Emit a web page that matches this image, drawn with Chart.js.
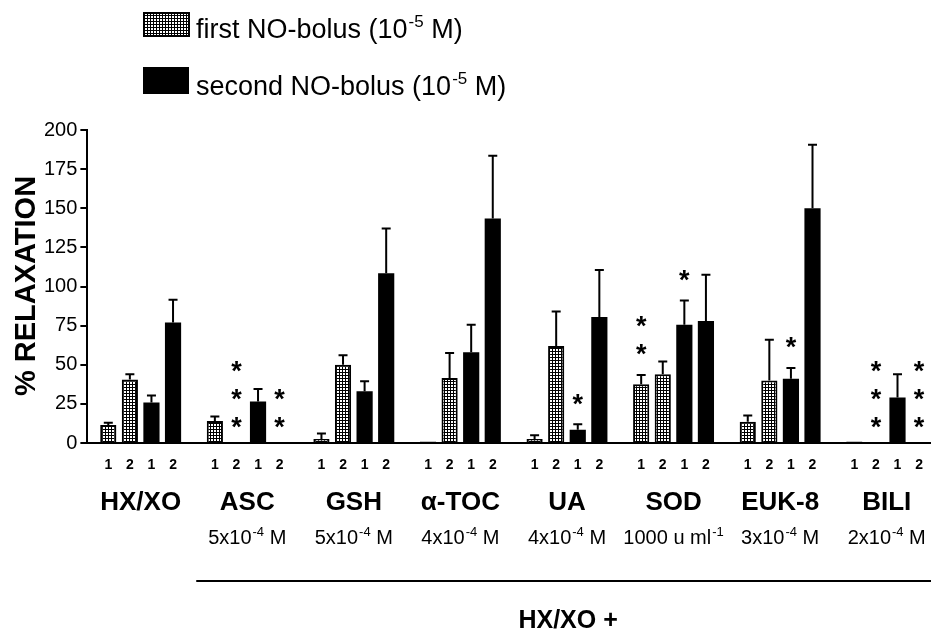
<!DOCTYPE html>
<html>
<head>
<meta charset="utf-8">
<script src="https://cdn.jsdelivr.net/npm/chart.js@4/dist/chart.umd.min.js"></script>
<style>
  html, body { margin: 0; padding: 0; background: #fff; overflow: hidden; }
  #wrap { width: 931px; height: 630px; overflow: hidden; position: relative; }
  canvas { display: block; }
</style>
</head>
<body>
<div id="wrap"><canvas id="c" width="940" height="630" style="width:940px;height:630px"></canvas></div>
<script>
// ---------- data ----------
const groups = ['HX/XO', 'ASC', 'GSH', 'α-TOC', 'UA', 'SOD', 'EUK-8', 'BILI'];
const concBase = ['', '5x10', '5x10', '4x10', '4x10', '1000 u ml', '3x10', '2x10'];
const concExp  = ['', '-4', '-4', '-4', '-4', '-1', '-4', '-4'];
const concUnit = ['', ' M', ' M', ' M', ' M', '', ' M', ' M'];
const barLabels = ['1', '2', '1', '2'];

const first1     = [11.5, 14, 2.5, 1, 2.5, 37.5, 13.5, 1];
const first1Err  = [1.5, 3, 3.5, 0, 2.5, 6, 4, 0];
const first2     = [40.5, 0.6, 50, 41.5, 62, 44, 40, 0.5];
const first2Err  = [3.5, 0, 6, 16, 22, 8, 26, 0];
const second1    = [25.8, 26.5, 33, 58, 8.5, 75.5, 41, 29];
const second1Err = [4.5, 8, 6.5, 17.5, 3.5, 15.5, 7, 15];
const second2    = [77, 0.5, 108.5, 143.5, 80.5, 78, 150, 0.5];
const second2Err = [14.5, 0, 28.5, 40, 30, 29.5, 40.5, 0];

const first1Stars  = [0, 0, 0, 0, 0, 2, 0, 0];
const first2Stars  = [0, 3, 0, 0, 0, 0, 0, 3];
const second1Stars = [0, 0, 0, 0, 1, 1, 1, 0];
const second2Stars = [0, 2, 0, 0, 0, 0, 0, 3];

const yTicks = [0, 25, 50, 75, 100, 125, 150, 175, 200];
const legendLabels = ['first NO-bolus (10', 'second NO-bolus (10'];
const legendExp = '-5';
const legendTail = ' M)';
const yTitle = '% RELAXATION';
const groupCaption = 'HX/XO +';

// ---------- styling ----------
const FONT = "'Liberation Sans', Arial, Helvetica, sans-serif";
const canvas = document.getElementById('c');
const ctx0 = canvas.getContext('2d');
function makePattern() {
  const c = document.createElement('canvas');
  c.width = 3; c.height = 3;
  const g = c.getContext('2d');
  g.fillStyle = '#000'; g.fillRect(0, 0, 3, 3);
  g.fillStyle = '#fff'; g.fillRect(1, 1, 2, 2);
  return ctx0.createPattern(c, 'repeat');
}
const dotted = makePattern();

const errs = [first1Err, first2Err, second1Err, second2Err];
const stars = [first1Stars, first2Stars, second1Stars, second2Stars];

function drawSup(ctx, x, baseline, parts, size, supSize, weight, align) {
  ctx.font = `${weight} ${size}px ${FONT}`;
  const w1 = ctx.measureText(parts[0]).width;
  const w3 = ctx.measureText(parts[2]).width;
  ctx.font = `${weight} ${supSize}px ${FONT}`;
  const w2 = ctx.measureText(parts[1]).width;
  let sx = align === 'center' ? x - (w1 + w2 + w3 + 1) / 2 : x;
  ctx.textAlign = 'left';
  ctx.textBaseline = 'alphabetic';
  ctx.font = `${weight} ${size}px ${FONT}`;
  ctx.fillText(parts[0], sx, baseline);
  ctx.font = `${weight} ${supSize}px ${FONT}`;
  ctx.fillText(parts[1], sx + w1 + 1, baseline - size * 0.42);
  ctx.font = `${weight} ${size}px ${FONT}`;
  ctx.fillText(parts[2], sx + w1 + w2 + 1, baseline);
}

const decorPlugin = {
  id: 'decor',
  afterDatasetsDraw(chart) {
    const ctx = chart.ctx;
    const y = chart.scales.y;
    ctx.save();
    ctx.strokeStyle = '#000';
    ctx.fillStyle = '#000';
    ctx.lineWidth = 2;
    chart.data.datasets.forEach((ds, di) => {
      const meta = chart.getDatasetMeta(di);
      meta.data.forEach((el, i) => {
        const v = ds.data[i];
        const e = errs[di][i];
        let topPx = y.getPixelForValue(v + e);
        if (e > 0) {
          const y0 = y.getPixelForValue(v);
          ctx.beginPath();
          ctx.moveTo(el.x, y0);
          ctx.lineTo(el.x, topPx);
          ctx.moveTo(el.x - 4.5, topPx);
          ctx.lineTo(el.x + 4.5, topPx);
          ctx.stroke();
        }
        const n = stars[di][i];
        if (n > 0) {
          ctx.font = `bold 27px ${FONT}`;
          ctx.textAlign = 'center';
          ctx.textBaseline = 'alphabetic';
          const m = ctx.measureText('*');
          const off = (v + e) < 5 ? 20 : 25;
          for (let k = 0; k < n; k++) {
            const cy = topPx - off - k * 28;
            const by = cy + (m.actualBoundingBoxAscent - m.actualBoundingBoxDescent) / 2;
            ctx.fillText('*', el.x, by);
          }
        }
      });
    });
    ctx.restore();
  },
  afterDraw(chart) {
    const ctx = chart.ctx;
    const xs = chart.scales.x;
    ctx.save();
    ctx.fillStyle = '#000';
    ctx.strokeStyle = '#000';
    // bar numbers
    ctx.font = `bold 14px ${FONT}`;
    ctx.textAlign = 'center';
    ctx.textBaseline = 'alphabetic';
    chart.data.datasets.forEach((ds, di) => {
      chart.getDatasetMeta(di).data.forEach((el) => {
        ctx.fillText(barLabels[di], el.x, 469);
      });
    });
    // group names + concentrations
    groups.forEach((g, i) => {
      const cx = xs.getPixelForValue(i);
      ctx.font = `bold 26px ${FONT}`;
      ctx.textAlign = 'center';
      ctx.fillText(g, cx, 510);
      if (concBase[i]) drawSup(ctx, cx, 544, [concBase[i], concExp[i], concUnit[i]], 20, 13, 'normal', 'center');
    });
    // bracket line
    const lx = xs.getPixelForValue(1) - 51;
    ctx.lineWidth = 2;
    ctx.beginPath();
    ctx.moveTo(lx, 581);
    ctx.lineTo(chart.width, 581);
    ctx.stroke();
    ctx.font = `bold 25px ${FONT}`;
    ctx.textAlign = 'center';
    ctx.fillText(groupCaption, (lx + chart.width) / 2, 628);
    // y title
    ctx.save();
    ctx.translate(27, 286);
    ctx.rotate(-Math.PI / 2);
    ctx.font = `bold 29px ${FONT}`;
    ctx.textAlign = 'center';
    ctx.textBaseline = 'middle';
    ctx.fillText(yTitle, 0, 0);
    ctx.restore();
    // legend
    ctx.fillStyle = dotted;
    ctx.fillRect(143, 12, 47, 25);
    ctx.lineWidth = 2;
    ctx.strokeRect(144, 13, 45, 23);
    ctx.fillStyle = '#000';
    ctx.fillRect(143, 67, 46, 27);
    drawSup(ctx, 196, 38, [legendLabels[0], legendExp, legendTail], 27, 17, 'normal', 'left');
    drawSup(ctx, 196, 95, [legendLabels[1], legendExp, legendTail], 27, 17, 'normal', 'left');
    ctx.restore();
  }
};

new Chart(canvas, {
  type: 'bar',
  data: {
    labels: groups,
    datasets: [
      { label: 'first NO-bolus 1', data: first1, backgroundColor: dotted, borderColor: '#000', borderWidth: 2 },
      { label: 'first NO-bolus 2', data: first2, backgroundColor: dotted, borderColor: '#000', borderWidth: 2 },
      { label: 'second NO-bolus 1', data: second1, backgroundColor: '#000', borderColor: '#000', borderWidth: 0 },
      { label: 'second NO-bolus 2', data: second2, backgroundColor: '#000', borderColor: '#000', borderWidth: 0 }
    ]
  },
  options: {
    responsive: false,
    animation: false,
    devicePixelRatio: 1,
    categoryPercentage: 0.81,
    barPercentage: 0.75,
    layout: { padding: { top: 130, bottom: 187, left: 41, right: 0 } },
    plugins: { legend: { display: false }, tooltip: { enabled: false } },
    scales: {
      x: {
        ticks: { display: false },
        grid: { display: false, drawTicks: false },
        border: { display: true, color: '#000', width: 2 }
      },
      y: {
        min: 0, max: 200,
        afterBuildTicks(s) { s.ticks = yTicks.map(v => ({ value: v })); },
        ticks: { color: '#000', font: { family: FONT, size: 20 }, padding: 3 },
        grid: { drawOnChartArea: false, drawTicks: true, tickLength: 7, color: '#000', lineWidth: 2 },
        border: { display: true, color: '#000', width: 2 }
      }
    }
  },
  plugins: [decorPlugin]
});
</script>
</body>
</html>
